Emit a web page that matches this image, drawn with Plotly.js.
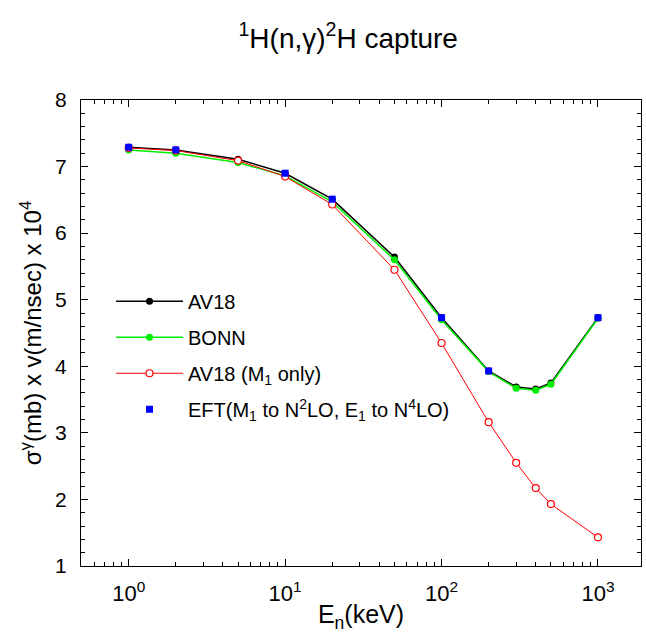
<!DOCTYPE html>
<html>
<head>
<meta charset="utf-8">
<script src="https://cdn.plot.ly/plotly-3.0.1.min.js"></script>
<style>html,body{margin:0;padding:0;background:#fff;}#chart{width:646px;height:633px;}</style>
</head>
<body>
<div id="chart"></div>
<script>
// Energies (keV)
var energies = [1, 2, 5, 10, 20, 50, 100, 200, 300, 400, 500, 1000];
// sigma*v x 10^4
var av18 = [7.29, 7.25, 7.11, 6.90, 6.51, 5.64, 4.73, 3.93, 3.69, 3.66, 3.75, 4.73];
var bonn = [7.25, 7.20, 7.06, 6.86, 6.47, 5.60, 4.70, 3.92, 3.67, 3.64, 3.73, 4.72];
var av18M1 = [7.28, 7.24, 7.09, 6.85, 6.43, 5.45, 4.35, 3.16, 2.55, 2.17, 1.93, 1.43];
var eftEnergies = [1, 2, 10, 20, 100, 200, 1000];
var eft = [7.29, 7.25, 6.90, 6.51, 4.73, 3.93, 4.73];

var xTickVals = [1, 10, 100, 1000];
var xTickText = ['10<sup>0</sup>', '10<sup>1</sup>', '10<sup>2</sup>', '10<sup>3</sup>'];

var minorX = [];
[0.1, 1, 10, 100, 1000].forEach(function (d) {
  for (var k = 2; k <= 9; k++) minorX.push(k * d);
});

var FONT = 'Liberation Sans, Arial, sans-serif';

var traces = [
  {x: energies, y: av18, name: 'AV18', mode: 'lines+markers', legendgroup: 'a',
   line: {color: '#000000', width: 1.5}, marker: {color: '#000000', size: 7, symbol: 'circle'}},
  {x: energies, y: bonn, name: 'BONN', mode: 'lines+markers', legendgroup: 'b',
   line: {color: '#00ee00', width: 1.5}, marker: {color: '#00ee00', size: 7, symbol: 'circle'}},
  {x: energies, y: av18M1, name: 'AV18 (M<sub>1</sub> only)', mode: 'lines+markers', legendgroup: 'c',
   line: {color: '#ff0000', width: 1}, marker: {color: '#ffffff', size: 7, symbol: 'circle', line: {color: '#ff0000', width: 1.2}}},
  {x: eftEnergies, y: eft, name: 'EFT(M<sub>1</sub> to N<sup>2</sup>LO, E<sub>1</sub> to N<sup>4</sup>LO)', mode: 'markers', legendgroup: 'd',
   marker: {color: '#0000ff', size: 7, symbol: 'square'}}
];

var layout = {
  width: 646, height: 633,
  margin: {l: 81, r: 5, t: 100, b: 67},
  paper_bgcolor: '#ffffff', plot_bgcolor: '#ffffff',
  font: {family: FONT, color: '#000000', size: 20},
  title: {text: '<sup>1</sup>H(n,γ)<sup>2</sup>H capture', font: {family: FONT, size: 28, color: '#000'},
          x: 0.539, xref: 'container', xanchor: 'center', y: 0.94, yref: 'container', yanchor: 'middle'},
  showlegend: true,
  legend: {x: 0.0536, y: 0.61, xanchor: 'left', yanchor: 'top', bgcolor: 'rgba(0,0,0,0)', borderwidth: 0,
           font: {family: FONT, size: 20, color: '#000'}, tracegroupgap: 7, itemwidth: 67},
  xaxis: {
    type: 'log', range: [-0.305, 3.275],
    tickmode: 'array', tickvals: xTickVals, ticktext: xTickText,
    ticks: 'inside', ticklen: 7, tickwidth: 1, tickcolor: '#000',
    showline: true, linecolor: '#000', linewidth: 1, mirror: 'ticks',
    showgrid: false, zeroline: false, ticklabelstandoff: 8,
    tickfont: {family: FONT, size: 22, color: '#000'},
    minor: {tickmode: 'array', tickvals: minorX, ticks: 'inside', ticklen: 4, tickcolor: '#000', showgrid: false},
    title: {text: 'E<sub>n</sub>(keV)', font: {family: FONT, size: 25, color: '#000'}, standoff: 0}
  },
  yaxis: {
    range: [1, 8], dtick: 1, tick0: 0,
    ticks: 'inside', ticklen: 7, tickwidth: 1, tickcolor: '#000',
    showline: true, linecolor: '#000', linewidth: 1, mirror: 'ticks',
    showgrid: false, zeroline: false, ticklabelstandoff: 9,
    tickfont: {family: FONT, size: 21, color: '#000'},
    minor: {dtick: 0.2, ticks: 'inside', ticklen: 4, tickcolor: '#000', showgrid: false},
    title: {text: 'σ<sup>γ</sup>(mb) x v(m/nsec) x 10<sup>4</sup>', font: {family: FONT, size: 24, color: '#000'}, standoff: 6}
  }
};

Plotly.newPlot('chart', traces, layout, {displayModeBar: false, staticPlot: true});
</script>
</body>
</html>
